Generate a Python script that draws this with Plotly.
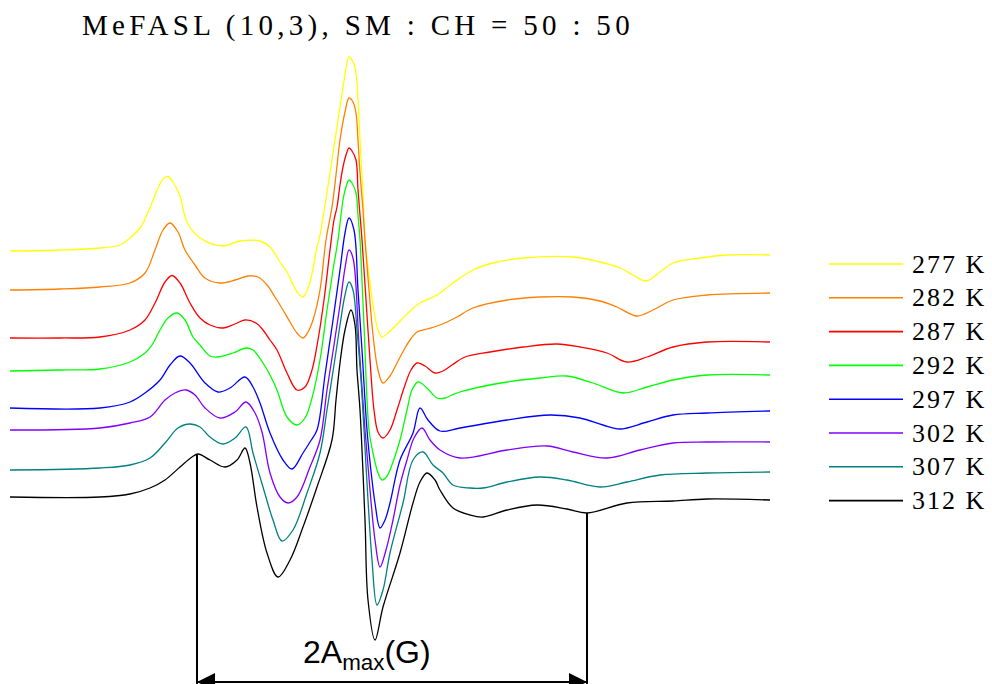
import numpy as np
import plotly.graph_objects as go

# ---------------- data (field in a.u. along the sweep, intensity in a.u.) -------------
temperatures = ["277 K", "282 K", "287 K", "292 K", "297 K", "302 K", "307 K", "312 K"]
colors = ["#FFFF00", "#FF8000", "#FF0000", "#00FF00", "#0000FF", "#8000FF", "#008080", "#000000"]
offsets = [433, 394, 346, 313, 276, 254, 214, 187]

field_277 = [10, 60, 100, 120, 130, 140, 150, 158, 164, 168, 173, 180, 187, 200, 223, 240, 260, 270, 280, 287,
             297, 303, 310, 317, 320, 325, 330, 335, 340, 345, 349, 353, 356, 358, 360, 363, 365, 369, 373, 378,
             382, 390, 400, 410, 420, 437, 453, 473, 493, 523, 573, 600, 620, 633, 646, 660, 673, 700, 727, 770]
int_277 = [0, 1, 3, 6, 13, 23, 43, 63, 73, 74.5, 69, 55, 29, 13, 5, 10, 10, 4, -11, -21,
           -41, -46, -31, 4, 16, 46, 78, 111, 144, 176, 194, 189, 178, 151, 111, 56, 11, -24, -54, -79,
           -86, -80, -70, -60, -52, -44, -32, -19, -12, -7, -6, -11, -17, -24, -30, -21, -12, -7, -4, -4]

field_282 = [10, 60, 100, 130, 145, 155, 163, 170, 178, 185, 195, 205, 220, 235, 248, 258, 267, 275, 283, 290,
             297, 303, 308, 313, 320, 326, 332, 336, 340, 345, 349, 353, 356, 358, 360, 363, 365, 369, 373, 378,
             383, 390, 397, 405, 410, 417, 427, 437, 447, 457, 473, 507, 540, 573, 600, 617, 637, 653, 673, 707, 770]
int_282 = [0, 1, 3, 7, 17, 40, 60, 67, 58, 40, 25, 12, 7, 10, 14, 13, 5, -7, -20, -32,
           -43, -48, -42, -30, 0, 50, 83, 115, 150, 178, 192, 188, 177, 150, 117, 80, 50, 0, -45, -80,
           -93, -86, -73, -58, -50, -42, -39, -36, -32, -27, -18, -10, -7, -7, -11, -17, -26, -20, -10, -5, -3]

field_287 = [10, 60, 100, 130, 145, 155, 165, 172, 180, 190, 200, 210, 223, 235, 245, 256, 263, 270, 277, 287,
             297, 305, 312, 318, 324, 330, 334, 337, 340, 343, 346, 349, 352, 356, 358, 360, 362, 366, 370, 374,
             378, 383, 390, 397, 405, 411, 417, 425, 435, 443, 452, 465, 490, 523, 557, 580, 607, 627, 647, 673,
             707, 770]
int_287 = [0, 0, 1, 8, 18, 35, 56, 62.5, 55, 35, 20, 13, 10, 14, 18, 15, 8, -2, -12, -35,
           -52, -49, -32, -2, 38, 88, 118, 131, 153, 171, 183, 190, 187, 178, 148, 123, 98, 38, -22, -72,
           -94, -100, -92, -72, -47, -32, -25, -28, -35, -33, -27, -19, -14, -9, -6, -9, -15, -24, -19, -9,
           -4, -4]

field_292 = [10, 60, 100, 130, 145, 152, 160, 168, 177, 185, 193, 200, 210, 217, 233, 246, 253, 263, 270, 277,
             287, 297, 305, 312, 320, 327, 333, 338, 341, 343, 346, 349, 352, 356, 358, 360, 364, 369, 373, 378,
             382, 387, 393, 400, 407, 412, 418, 427, 437, 445, 452, 460, 480, 507, 540, 567, 593, 623, 647, 673,
             707, 770]
int_292 = [0, 1, 2, 9, 18, 26, 41, 53, 58, 51, 34, 26, 15, 14, 18, 23, 21, 8, -4, -19,
           -46, -54, -47, -27, 11, 61, 101, 131, 156, 171, 184, 191, 188, 178, 156, 131, 46, -59, -82, -102,
           -109, -105, -91, -69, -39, -19, -11, -17, -27, -27, -24, -21, -16, -11, -7, -5, -12, -22, -16, -9,
           -4, -4]

field_297 = [10, 100, 130, 145, 160, 170, 180, 190, 205, 218, 230, 245, 253, 260, 270, 283, 292, 303, 310, 317,
             325, 333, 340, 345, 349, 354, 358, 362, 367, 372, 375, 380, 385, 390, 400, 413, 420, 428, 440, 460,
             507, 550, 580, 603, 620, 647, 673, 707, 770]
int_297 = [0, 0, 6, 15, 28, 43, 52, 45, 25, 16, 20, 31, 21, 5, -25, -52, -61, -45, -34, -22,
           33, 88, 138, 175, 190, 178, 118, 58, -22, -72, -95, -120, -112, -95, -52, -25, 0, -12, -23, -20,
           -12, -7, -10, -17, -21, -14, -7, -5, -3]

field_302 = [10, 100, 130, 150, 165, 175, 186, 195, 205, 220, 235, 246, 255, 262, 270, 280, 288, 297, 310, 320,
             327, 334, 340, 345, 349, 353, 359, 365, 370, 375, 380, 386, 393, 400, 407, 414, 422, 430, 440, 460,
             507, 547, 573, 607, 640, 673, 707, 770]
int_302 = [0, 2, 7, 13, 30, 37, 40, 35, 22, 12, 18, 28, 17, -2, -43, -67, -73, -67, -37, -10,
           40, 85, 125, 162, 180, 172, 85, 0, -60, -110, -137, -120, -90, -55, -30, -8, 2, -10, -20, -28,
           -20, -16, -22, -28, -20, -13, -12, -12]

field_307 = [10, 100, 130, 150, 165, 178, 190, 200, 210, 223, 235, 246, 253, 263, 273, 282, 293, 307, 320, 327,
             334, 340, 345, 349, 353, 357, 361, 364, 368, 372, 377, 383, 390, 403, 413, 423, 433, 443, 453, 470,
             483, 507, 540, 567, 600, 627, 660, 707, 770]
int_307 = [0, 2, 5, 12, 27, 42, 46, 43, 33, 26, 32, 43, 17, -17, -50, -71, -60, -23, 17, 60,
           105, 145, 175, 188, 180, 140, 90, 40, -30, -90, -135, -120, -83, -33, 10, 18, 5, -3, -15, -18,
           -18, -12, -7, -10, -17, -12, -5, -3, -2]

field_312 = [10, 100, 130, 150, 165, 180, 192, 198, 210, 225, 237, 245, 250, 257, 267, 278, 290, 303, 317, 332,
             336, 340, 345, 351, 355, 357, 360, 365, 368, 375, 383, 400, 413, 420, 427, 435, 440, 453, 470, 483,
             507, 537, 567, 587, 627, 673, 707, 770]
int_312 = [0, 0, 3, 9, 17, 30, 40, 43, 37, 30, 37, 49, 34, -10, -56, -80, -63, -30, 10, 57,
           97, 134, 167, 187, 172, 127, 87, -23, -103, -143, -110, -56, -6, 15, 24, 17, 7, -11, -18, -20,
           -13, -8, -12, -16, -6, -4, -2, -3]

fields = [field_277, field_282, field_287, field_292, field_297, field_302, field_307, field_312]
intensities = [int_277, int_282, int_287, int_292, int_297, int_302, int_307, int_312]

# 2A_max markers (field positions of the outer extrema on the 312 K spectrum)
a2max_fields = [197, 587]
arrow_level = 2

SERIF = "Liberation Serif, Times New Roman, serif"

# ---------------- figure -------------
fig = go.Figure()
for f, v, off, col, name in zip(fields, intensities, offsets, colors, temperatures):
    fig.add_trace(go.Scatter(
        x=f, y=np.array(v, dtype=float) + off, mode="lines", name=name,
        line=dict(color=col, width=1.3, shape="spline", smoothing=1.0),
        hoverinfo="skip", showlegend=False))

# vertical 2A_max lines, from the 312 K spectrum down to the bottom
for fx in a2max_fields:
    top = np.interp(fx, field_312, int_312) + offsets[-1]
    fig.add_trace(go.Scatter(x=[fx, fx], y=[top, 0], mode="lines",
                             line=dict(color="black", width=2), hoverinfo="skip", showlegend=False))

# horizontal double arrow
mid = (a2max_fields[0] + a2max_fields[1]) / 2
fig.add_trace(go.Scatter(x=a2max_fields, y=[arrow_level, arrow_level], mode="lines",
                         line=dict(color="black", width=2), hoverinfo="skip", showlegend=False))
for fx in a2max_fields:
    fig.add_annotation(x=fx, y=arrow_level, ax=mid, ay=arrow_level, axref="x", ayref="y",
                       xref="x", yref="y", text="", showarrow=True, arrowhead=2,
                       arrowsize=1.8, arrowwidth=2, arrowcolor="black", standoff=0)

fig.add_annotation(x=367, y=30, xref="x", yref="y", xanchor="center", yanchor="middle",
                   text="2A<sub>max</sub>(G)", showarrow=False,
                   font=dict(family="Liberation Sans, Arial", size=32, color="black"))

# title
fig.add_annotation(x=80, y=659, xref="x", yref="y", xanchor="left", yanchor="middle",
                   text=("<span style=\"font-family:'Liberation Serif';letter-spacing:4.3px\">"
                         "MeFASL (10,3), SM : CH = 50 : 50</span>"),
                   showarrow=False,
                   font=dict(family=SERIF, size=29, color="black"))

# legend drawn manually (long line samples)
legend_top = 684 - 264
legend_step = 33.8
for i, (name, col) in enumerate(zip(temperatures, colors)):
    yy = legend_top - i * legend_step
    fig.add_shape(type="line", x0=829, x1=903, y0=yy, y1=yy, xref="x", yref="y",
                  line=dict(color=col, width=1.6))
    fig.add_annotation(x=910, y=yy, xref="x", yref="y", xanchor="left", yanchor="middle",
                       text=f"<span style=\"font-family:'Liberation Serif';letter-spacing:2px\">{name}</span>",
                       showarrow=False,
                       font=dict(family=SERIF, size=26, color="black"))

fig.update_layout(
    width=992, height=684, margin=dict(l=0, r=0, t=0, b=0),
    paper_bgcolor="white", plot_bgcolor="white", showlegend=False,
    xaxis=dict(range=[0, 992], visible=False, fixedrange=True),
    yaxis=dict(range=[0, 684], visible=False, fixedrange=True),
)
fig.write_html("out.html")
